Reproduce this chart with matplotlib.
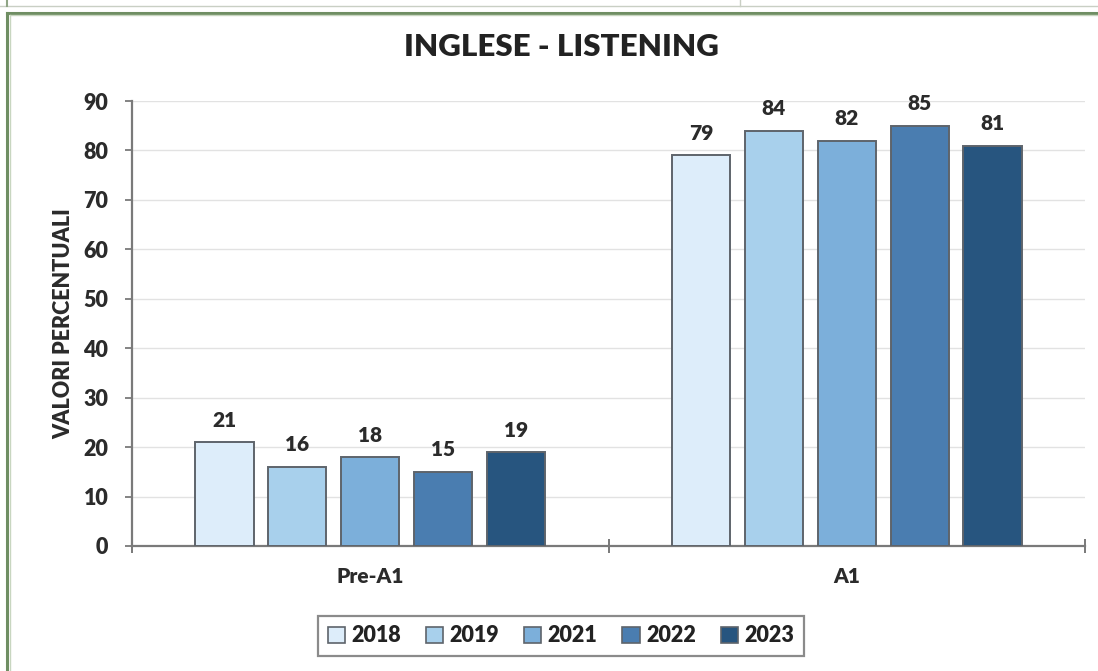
import matplotlib
matplotlib.use("Agg")
import matplotlib.pyplot as plt
from matplotlib.lines import Line2D
from matplotlib.patches import Patch
import numpy as np

categories = ["Pre-A1", "A1"]
years = ["2018", "2019", "2021", "2022", "2023"]
val_2018 = [21, 79]
val_2019 = [16, 84]
val_2021 = [18, 82]
val_2022 = [15, 85]
val_2023 = [19, 81]
series = [val_2018, val_2019, val_2021, val_2022, val_2023]
colors = ["#DDEDFA", "#A8D0EC", "#7CAFDA", "#4A7DB0", "#27557F"]
yticks = [0, 10, 20, 30, 40, 50, 60, 70, 80, 90]

plt.rcParams['font.family'] = ['Lato', 'DejaVu Sans']
WEIGHT = "heavy"
TXT = "#2B2B2B"

W, H = 1098, 671
fig = plt.figure(figsize=(W / 100, H / 100), dpi=100)
fig.patch.set_facecolor("white")

# outer frame pieces
def fl(x0, y0, x1, y1, **kw):
    fig.add_artist(Line2D([x0 / W, x1 / W], [1 - y0 / H, 1 - y1 / H],
                          transform=fig.transFigure, **kw))

fl(0, 6, 1098, 6, color="#C9CFC4", lw=1.0)
fl(740, 0, 740, 6, color="#C9CFC4", lw=1.0)
fl(7, 0, 7, 6, color="#8FA585", lw=1.5)
fl(7, 12.5, 1098, 12.5, color="#6F8E63", lw=2.2)
fl(7, 12.5, 7, 671, color="#6F8E63", lw=2.2)
fl(9.5, 15, 1098, 15, color="#C8D6C0", lw=1.0)
fl(9.5, 15, 9.5, 671, color="#C8D6C0", lw=1.0)

ax = fig.add_axes([132 / W, 1 - 546 / H, (1085 - 132) / W, (546 - 101) / H])
ax.set_facecolor("white")

x = np.arange(len(categories))
bw = 0.122
step = 0.153
n = len(series)
for i, (vals, c, yr) in enumerate(zip(series, colors, years)):
    off = (i - (n - 1) / 2) * step
    bars = ax.bar(x + off, vals, width=bw, color=c, edgecolor="#5E646B",
                  linewidth=1.4, label=yr, zorder=3)
    ax.bar_label(bars, labels=[str(v) for v in vals], padding=9,
                 fontsize=15, fontweight=WEIGHT, color=TXT)

ax.set_xlim(-0.5, 1.5)
ax.set_ylim(0, 90)
ax.set_yticks(yticks)
ax.set_yticklabels([str(t) for t in yticks], fontsize=15.5, fontweight=WEIGHT,
                   color=TXT)
ax.yaxis.grid(True, color="#E2E2E2", lw=1.0, zorder=0)
ax.set_axisbelow(True)

ax.set_xticks(x)
ax.set_xticklabels(categories, fontsize=15, fontweight=WEIGHT, color=TXT)
ax.set_xticks([-0.5, 0.5, 1.5], minor=True)
ax.tick_params(axis="x", which="major", length=0, pad=15)
ax.tick_params(axis="x", which="minor", length=10, width=1.3,
               direction="inout", color="#6E6E6E")
ax.tick_params(axis="y", length=5, width=1.2, color="#6E6E6E", pad=12)

for s in ["top", "right"]:
    ax.spines[s].set_visible(False)
for s in ["left", "bottom"]:
    ax.spines[s].set_color("#7A7A7A")
    ax.spines[s].set_linewidth(1.6)

ax.set_ylabel("VALORI PERCENTUALI", fontsize=15.5, fontweight=WEIGHT,
              color=TXT, labelpad=7)

fig.text(561 / W, 1 - 47 / H, "INGLESE - LISTENING", ha="center", va="center",
         fontsize=22.5, fontweight=WEIGHT, color="#222222")

handles = [Patch(facecolor=c, edgecolor="#5E646B", linewidth=1.2) for c in colors]
leg = fig.legend(handles, years, loc="center", bbox_to_anchor=(561 / W, 1 - 636 / H),
                 ncol=5, frameon=True, handlelength=0.8,
                 handleheight=0.8, handletextpad=0.3, columnspacing=1.15,
                 borderpad=0.45, fancybox=False,
                 prop={"weight": WEIGHT, "size": 15.5})
leg.get_frame().set_edgecolor("#6E6E6E")
leg.get_frame().set_linewidth(1.6)
for t in leg.get_texts():
    t.set_color("#222222")

fig.savefig("out.png", dpi=100, facecolor="white")
